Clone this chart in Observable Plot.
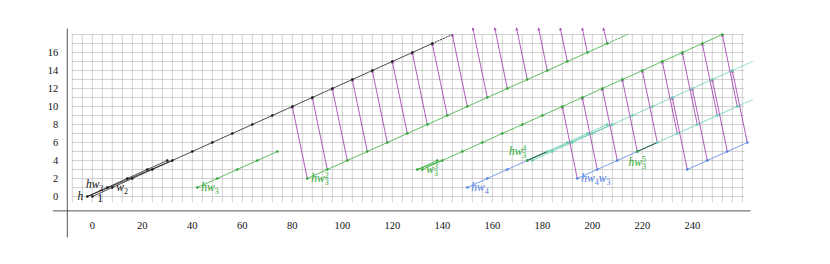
<!DOCTYPE html>
<html><head><meta charset="utf-8">
<script src="https://cdn.jsdelivr.net/npm/d3@7"></script>
<script src="https://cdn.jsdelivr.net/npm/@observablehq/plot@0.6"></script>
<style>html,body{margin:0;padding:0;background:#fff}svg{display:block}</style>
</head><body><div id="chart"></div>
<script>
// ---- tick labels ----
const xTicks = [0, 20, 40, 60, 80, 100, 120, 140, 160, 180, 200, 220, 240];
const yTicks = [0, 2, 4, 6, 8, 10, 12, 14, 16];

// ---- black lattice chains ----
const blackH = [[-2,0],[6,1],[14,2],[22,3],[30,4]];
const blackMain = [[0,0],[8,1],[16,2],[24,3],[32,4],[40,5],[48,6],[56,7],[64,8],[72,9],[80,10],[88,11],[96,12],[104,13],[112,14],[120,15],[128,16],[136,17]];
const blackMid = [[-2,0],[32,4]];
const blackDotted = [[136,17],[144,18]];

// ---- green chains ----
const greenW3 = [[42,1],[50,2],[58,3],[66,4],[74,5]];
const greenW3sq = [[86,2],[94,3],[102,4],[110,5],[118,6],[126,7],[134,8],[142,9],[150,10],[158,11],[166,12],[174,13],[182,14],[190,15],[198,16],[206,17]];
const greenW3sqDotted = [[206,17],[214,18]];
const greenA = [[130,3],[138,4]];
const greenMid = [[130,3],[140,4]];
const greenB = [[132,3],[140,4],[148,5],[156,6],[164,7],[172,8],[180,9],[188,10],[196,11],[204,12],[212,13],[220,14],[228,15],[236,16],[244,17],[252,18]];
const greenMarks = [[174,4],[218,5]];

// ---- blue chains ----
const blue1 = [[150,1],[158,2],[166,3],[174,4]];
const blue2 = [[194,2],[202,3],[210,4],[218,5]];
const blue3 = [[238,3],[246,4],[254,5],[262,6]];

// ---- dark joining segments ----
const dark1 = [[174,4],[182,5]];
const dark2 = [[218,5],[226,6]];

// ---- teal chains ----
const tealA = [[182,5],[190,6],[198,7],[206,8]];
const tealMid = [[174,4],[208,8]];
const tealB = [[176,4],[184,5],[192,6],[200,7],[208,8],[216,9],[224,10],[232,11],[240,12],[248,13],[256,14]];
const tealBDotted = [[256,14],[264,15]];
const tealLow = [[226,6],[234,7],[242,8],[250,9],[258,10]];
const tealLowDotted = [[258,10],[264,10.75]];

// ---- purple arrows [x1,y1,x2,y2] ----
const arrows1 = [[86,2,80,10],[94,3,88,11],[102,4,96,12],[110,5,104,13],[118,6,112,14],[126,7,120,15],[134,8,128,16],[142,9,136,17],[150,10,144,18],[158,11,152.2,18.7],[166,12,161,18.7],[174,13,169.7,18.7],[182,14,178.5,18.7],[190,15,187.2,18.7],[198,16,196,18.7],[206,17,204.4,18.7]];
const arrows2 = [[194,2,188,10],[202,3,196,11],[210,4,204,12],[218,5,212,13],[226,6,220,14],[234,7,228,15],[242,8,236,16],[250,9,244,17],[258,10,252,18]];
const arrows3 = [[238,3,232,11],[246,4,240,12],[254,5,248,13],[262,6,256,14]];

// ---- labels ----
const labels = [
  {x:-2, y:0, t:"h", pos:"left", c:"black"},
  {x:0, y:0, t:"1", pos:"rightdown", c:"black"},
  {x:6, y:1, t:"hw_2", pos:"leftup", c:"black"},
  {x:8, y:1, t:"w_2", pos:"right", c:"black"},
  {x:42, y:1, t:"hw_3", pos:"right", c:"green"},
  {x:86, y:2, t:"hw_3^2", pos:"right", c:"green"},
  {x:132, y:3, t:"w_3^3", pos:"right", c:"green"},
  {x:174, y:4, t:"hw_3^4", pos:"aboveleft", c:"green"},
  {x:150, y:1, t:"hw_4", pos:"right", c:"blue"},
  {x:194, y:2, t:"hw_4w_3", pos:"right", c:"blue"},
  {x:218, y:5, t:"hw_3^5", pos:"below", c:"green"}
];

// ---- styling ----
const COL = {black:"#111", green:"#2aa82f", blue:"#4f7fe6", teal:"#5fcab0", dark:"#1e5e3e", purple:"#9c35aa", grid:"#b4b4b4", axis:"#555"};
const SERIF = "Liberation Serif, DejaVu Serif, serif";
const GRID = {x0:-8, x1:261, y0:-0.75, y1:18, step:4};
const AXIS = {xAt:-10, yAt:-1.6, xFrom:-15.5, xTo:263.5, yFrom:-4.6, yTo:18.6};

const gridX = d3.range(GRID.x0, GRID.x1, GRID.step);
const gridY = d3.range(0, GRID.y1 + 1, 1);

function chain(data, color, opts = {}) {
  return Plot.line(data, {x: d => d[0], y: d => d[1], stroke: color, strokeWidth: 0.75, ...opts});
}
function pts(data, color) {
  return Plot.dot(data, {x: d => d[0], y: d => d[1], r: 1.3, fill: color, stroke: "none"});
}
function arr(data) {
  return Plot.arrow(data, {x1: d => d[0], y1: d => d[1], x2: d => d[2], y2: d => d[3],
    stroke: COL.purple, strokeWidth: 0.8, headLength: 4, headAngle: 50});
}
const dot = {strokeDasharray: "1.3,1.7", strokeWidth: 0.9};
function lab(pos, opts) {
  return Plot.text(labels.filter(d => d.pos === pos), {x: "x", y: "y", text: "t", fill: d => COL[d.c],
    fontFamily: SERIF, fontSize: 11.5, fontStyle: "italic", ...opts});
}

const chart = Plot.plot({
  width: 830, height: 264,
  marginLeft: 0, marginRight: 0, marginTop: 0, marginBottom: 0,
  x: {domain: [-36.72, 295.28], axis: null},
  y: {domain: [-7.556, 21.778], axis: null},
  style: {background: "#fff"},
  marks: [
    Plot.ruleX(gridX, {x: d => d, y1: GRID.y0, y2: GRID.y1, stroke: COL.grid, strokeWidth: 0.6}),
    Plot.ruleY(gridY, {y: d => d, x1: GRID.x0, x2: GRID.x1, stroke: COL.grid, strokeWidth: 0.6}),
    Plot.ruleY([AXIS.yAt], {y: d => d, x1: AXIS.xFrom, x2: AXIS.xTo, stroke: COL.axis, strokeWidth: 1}),
    Plot.ruleX([AXIS.xAt], {x: d => d, y1: AXIS.yFrom, y2: AXIS.yTo, stroke: COL.axis, strokeWidth: 1}),
    Plot.text(xTicks, {x: d => d, y: AXIS.yAt, dy: 15, text: d => String(d), fontFamily: SERIF, fontSize: 10.5, fill: "#111"}),
    Plot.text(yTicks, {x: AXIS.xAt, y: d => d, dx: -9, textAnchor: "end", text: d => String(d), fontFamily: SERIF, fontSize: 10.5, fill: "#111"}),

    chain(blackH, COL.black), chain(blackMain, COL.black), chain(blackMid, COL.black),
    chain(blackDotted, COL.black, dot),
    chain(greenW3, COL.green), chain(greenW3sq, COL.green), chain(greenW3sqDotted, COL.green, dot),
    chain(greenA, COL.green), chain(greenMid, COL.green), chain(greenB, COL.green),
    chain(blue1, COL.blue), chain(blue2, COL.blue), chain(blue3, COL.blue),
    chain(tealA, COL.teal), chain(tealMid, COL.teal), chain(tealB, COL.teal),
    chain(tealBDotted, COL.teal, dot), chain(tealLow, COL.teal), chain(tealLowDotted, COL.teal, dot),
    chain(dark1, COL.dark, {strokeWidth: 1.1}), chain(dark2, COL.dark, {strokeWidth: 1.1}),

    arr(arrows1), arr(arrows2), arr(arrows3),

    pts(blackH, COL.black), pts(blackMain, COL.black),
    pts(greenW3, COL.green), pts(greenW3sq, COL.green), pts(greenA, COL.green), pts(greenB, COL.green),
    pts(blue1, COL.blue), pts(blue2, COL.blue), pts(blue3, COL.blue),
    pts(tealA, COL.teal), pts(tealB, COL.teal), pts(tealLow, COL.teal),
    pts(greenMarks, COL.green),

    lab("left", {textAnchor: "end", dx: -4}),
    lab("leftup", {textAnchor: "end", dx: -4, dy: -3}),
    lab("right", {textAnchor: "start", dx: 4}),
    lab("rightdown", {textAnchor: "start", dx: 5, dy: 1.5}),
    lab("aboveleft", {textAnchor: "end", dx: -1, dy: -9}),
    lab("below", {textAnchor: "middle", dy: 11})
  ]
});

// Typeset math-like labels: letters italic, digits upright, _ sub, ^ sup (stacked when after sub)
const NS = "http://www.w3.org/2000/svg";
const labelSet = new Set(labels.map(d => d.t));
chart.querySelectorAll("text").forEach(t => {
  const s = t.textContent;
  if (!labelSet.has(s)) return;
  while (t.firstChild) t.removeChild(t.firstChild);
  let cur = 0, lastSub = false;
  for (let i = 0; i < s.length; i++) {
    const ch = s[i];
    const ts = document.createElementNS(NS, "tspan");
    if (ch === "_" || ch === "^") {
      const v = s[++i];
      ts.textContent = v;
      ts.setAttribute("font-size", "8");
      ts.setAttribute("font-style", "normal");
      if (ch === "_") {
        ts.setAttribute("dy", String(3 - cur)); cur = 3; lastSub = true;
      } else {
        if (lastSub) ts.setAttribute("dx", "-4");
        ts.setAttribute("dy", String(-4.5 - cur)); cur = -4.5; lastSub = false;
      }
    } else {
      ts.textContent = ch;
      if (/[0-9]/.test(ch)) ts.setAttribute("font-style", "normal");
      if (cur !== 0) ts.setAttribute("dy", String(-cur));
      cur = 0; lastSub = false;
    }
    t.appendChild(ts);
  }
});

document.getElementById("chart").appendChild(chart);
</script>
</body></html>
